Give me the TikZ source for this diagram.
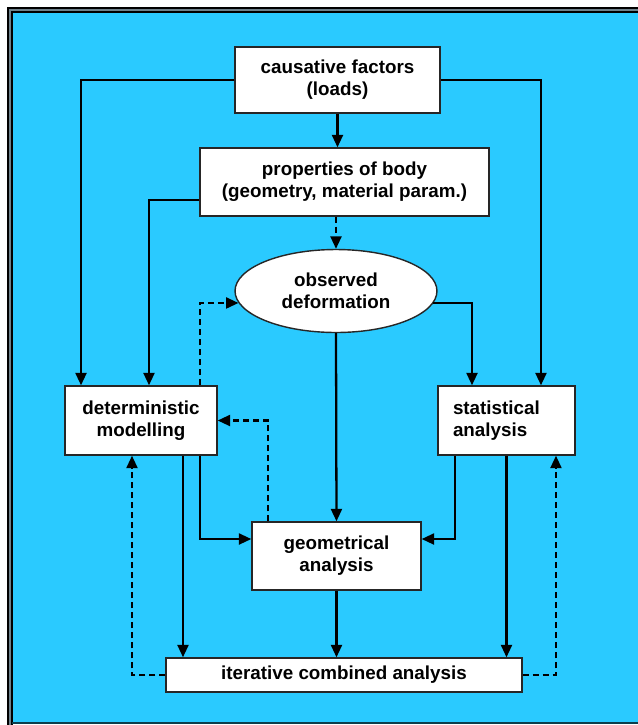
\documentclass[tikz,border=0pt]{standalone}
\usepackage{fontspec}
\setmainfont{Liberation Sans}
\usetikzlibrary{arrows.meta,shapes.geometric}
\definecolor{skyblue}{RGB}{42,202,255}
\definecolor{framegrey}{RGB}{110,130,140}

\begin{document}
\begin{tikzpicture}[x=0.02cm,y=-0.02cm]
    \tikzset{%
      box/.style={rectangle, draw=black!85, fill=white, line width=0.8pt,
        inner sep=0pt, align=center,
        font=\fontsize{10.7}{12.5}\selectfont\bfseries},
      oval/.style={ellipse, draw=black!85, fill=white, line width=0.8pt,
        inner sep=0pt, align=center,
        font=\fontsize{10.7}{12.5}\selectfont\bfseries},
      arr/.style={line width=1.3pt, -{Triangle[length=2.5mm,width=2.2mm]}},
      darr/.style={arr, dash pattern=on 3.4pt off 2.3pt},
    }
    \useasboundingbox (0,0) rectangle (637,725);
    \fill[white] (0,0) rectangle (637,725);
    \fill[skyblue] (8,8) rectangle (650,724);
    \draw[framegrey, line width=3pt] (10,730) -- (10,10) -- (650,10);
    \draw[black, line width=0.6pt] (8,730) -- (8,8) -- (650,8);
    \draw[black, line width=0.6pt] (12,730) -- (12,12) -- (650,12);
    \draw[black!70!skyblue, line width=1pt] (12,723) -- (650,723);

    \node[box, minimum width=4.1cm, minimum height=1.32cm] (CF) at (337.5,80)
      {causative factors\\(loads)};
    \node[box, minimum width=5.78cm, minimum height=1.36cm] (PB) at (344.5,182)
      {properties of body\\(geometry, material param.)};
    \node[oval, minimum width=4.04cm, minimum height=1.66cm] (OD) at (336,291)
      {observed\\deformation};
    \node[box, minimum width=3.04cm, minimum height=1.38cm] (DM) at (141,420.5)
      {deterministic\\modelling};
    \node[box, minimum width=2.74cm, minimum height=1.38cm, text width=2.14cm,
      inner xsep=0.3cm, align=left] (SA) at (506.5,420.5)
      {statistical\\analysis};
    \node[box, minimum width=3.38cm, minimum height=1.36cm] (GA) at (336.5,556)
      {geometrical\\analysis};
    \node[box, minimum width=7.12cm, minimum height=0.68cm] (IA) at (344,675)
      {iterative combined analysis};

    % from the loads
    \draw[arr] (CF.west) -| ([xshift=-1.2cm]DM.north);
    \draw[arr] (CF.east) -| ([xshift=0.69cm]SA.north);
    \draw[arr] (CF.south) -- (CF.south |- PB.north);

    % from the body
    \draw[arr] ([yshift=-0.36cm]PB.west) -| ([xshift=0.16cm]DM.north);
    \draw[darr] (OD.north |- PB.south) -- (OD.north);

    % from the observations
    \draw[arr] (OD.-7) -| ([xshift=-0.69cm]SA.north);
    \draw[arr] (OD.south) -- (GA.north);
    \draw[darr] ([xshift=1.18cm]DM.north) |- (OD.187);
    \draw[darr] ([xshift=-1.37cm]GA.north) |- (DM.east);

    % into the geometrical analysis
    \draw[arr] ([xshift=1.18cm]DM.south) |- ([yshift=0.34cm]GA.west);
    \draw[arr] ([xshift=-1.03cm]SA.south) |- ([yshift=0.34cm]GA.east);

    % into the combined analysis
    \draw[arr] ([xshift=0.84cm]DM.south) -- ([xshift=0.84cm]DM.south |- IA.north);
    \draw[arr] (GA.south) -- (IA.north -| GA.south);
    \draw[arr] (SA.south) -- (SA.south |- IA.north);
    \draw[darr] (IA.west) -| ([xshift=-0.18cm]DM.south);
    \draw[darr] (IA.east) -| ([xshift=0.99cm]SA.south);
\end{tikzpicture}
\end{document}
